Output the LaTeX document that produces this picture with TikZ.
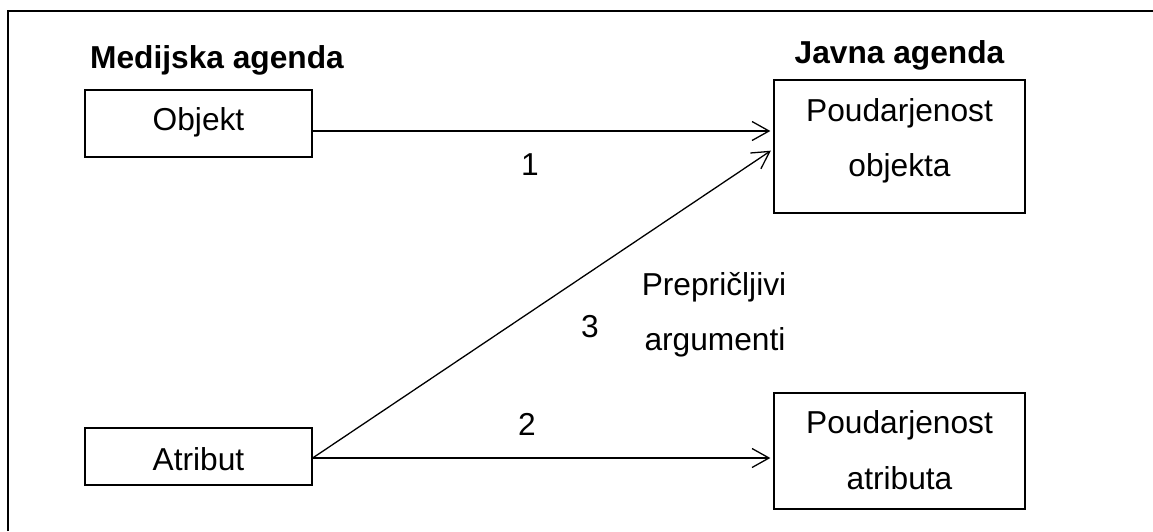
\documentclass[tikz,border=0pt]{standalone}
\usepackage{fontspec}
\setmainfont{Liberation Sans}
\usetikzlibrary{arrows.meta}
\begin{document}
\begin{tikzpicture}[x=1pt,y=-1pt,
  box/.style={draw, line width=1.3pt, inner sep=0pt},
  txt/.style={font=\fontsize{31.7}{38}\selectfont, anchor=base, inner sep=0pt},
  head/.style={txt, font=\fontsize{31.7}{38}\selectfont\bfseries},
  link/.style={line width=1.3pt, shorten >=3pt,
    -{Straight Barb[length=17pt,width=19pt]}}]
\useasboundingbox (0,0) rectangle (1153,531);

% frame (top and left edges)
\coordinate (fbl) at (8,531);
\coordinate (ftl) at (8,11);
\coordinate (ftr) at (1153,11);
\draw[line width=2pt] (fbl) -- (ftl) -- (ftr);

% headings
\node[head] (hmed) at (217,68) {Medijska agenda};
\node[head] (hjav) at (899.5,63) {Javna agenda};

% boxes
\node[box, minimum width=227pt, minimum height=67pt]  (obj)  at (198.5,123.5) {};
\node[box, minimum width=227pt, minimum height=57pt]  (atr)  at (198.5,456.5) {};
\node[box, minimum width=251pt, minimum height=133pt] (pobj) at (899.5,146.5) {};
\node[box, minimum width=251pt, minimum height=116pt] (patr) at (899.5,451) {};

% box texts
\node[txt] (tobj)   at (198.5,130) {Objekt};
\node[txt] (tatr)   at (198.5,470) {Atribut};
\node[txt] (tpobj1) at (899.5,121) {Poudarjenost};
\node[txt] (tpobj2) at (899.5,176) {objekta};
\node[txt] (tpatr1) at (899.5,433) {Poudarjenost};
\node[txt] (tpatr2) at (899.5,489) {atributa};

% connectors
\draw[link] ([yshift=-7.5pt]obj.east) -- ([yshift=15.5pt]pobj.west);
\draw[link] ([yshift=-1.5pt]atr.east) -- ([yshift=-2.5pt]pobj.west);
\draw[link] ([yshift=-1.5pt]atr.east) -- ([yshift=-7pt]patr.west);

% connector labels
\node[txt] (l1) at (530,175) {1};
\node[txt] (l2) at (527,435) {2};
\node[txt] (l3) at (590,337) {3};
\node[txt] (la1) at (714,295) {Prepričljivi};
\node[txt] (la2) at (715,350) {argumenti};
\end{tikzpicture}
\end{document}
